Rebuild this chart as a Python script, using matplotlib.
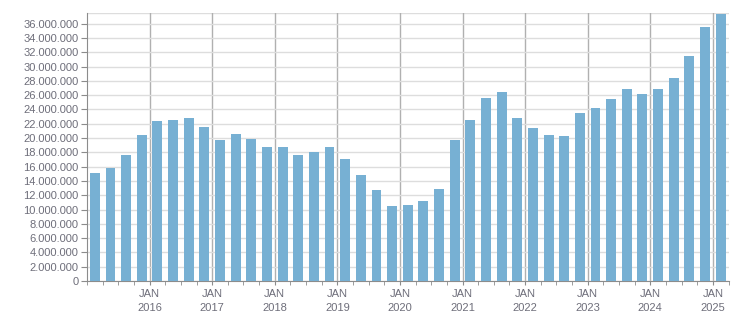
import matplotlib
matplotlib.use('Agg')
import matplotlib.pyplot as plt
from matplotlib.ticker import FuncFormatter, MultipleLocator

plt.rcParams['font.family'] = 'Liberation Sans'

# quarterly values, Q1 2015 .. Q1 2025
quarters = [f'{y}Q{q}' for y in range(2015, 2026) for q in range(1, 5)][:41]
values = [
    15.15, 15.85, 17.65, 20.47,
    22.43, 22.53, 22.85, 21.60,
    19.77, 20.60, 19.93, 18.79,
    18.79, 17.67, 18.05, 18.79,
    17.07, 14.87, 12.73, 10.49,
    10.63, 11.19, 12.87, 19.73,
    22.53, 25.60, 26.44, 22.81,
    21.41, 20.43, 20.29, 23.51,
    24.21, 25.47, 26.86, 26.16,
    26.86, 28.40, 31.48, 35.54,
    37.36,
]
values = [v * 1e6 for v in values]
years = list(range(2016, 2026))

bar_color = '#77B0D3'
text_color = '#6e6e7a'

fig = plt.figure(figsize=(7.51, 3.13), dpi=100)
ax = fig.add_axes([87 / 751, 1 - 281 / 313, (728.5 - 87) / 751, (281 - 13) / 313])

# x in months from Jan 2015, bar centred in its quarter
x = [3 * i + 1.5 for i in range(len(values))]
ax.bar(x, values, width=1.9, color=bar_color, zorder=3)

ax.set_xlim(0, 123)
ax.set_ylim(0, 37.5e6)

ax.yaxis.set_major_locator(MultipleLocator(2e6))
ax.yaxis.set_major_formatter(FuncFormatter(lambda v, p: f'{int(v):,}'.replace(',', '.')))

major = [12 * (y - 2015) for y in years]
ax.set_xticks(major)
ax.set_xticklabels([f'JAN\n{y}' for y in years])
ax.set_xticks([3 * i for i in range(42)], minor=True)

ax.grid(axis='y', color='#dddddd', linewidth=1, zorder=0)
for m in major:
    ax.axvline(m, color='#b0b0b0', linewidth=1, zorder=1)

for s in ['top', 'right']:
    ax.spines[s].set_visible(False)
ax.axhline(37.5e6, color='#dddddd', linewidth=1, zorder=0)
ax.spines['left'].set_color('#8c8c8c')
ax.spines['bottom'].set_color('#8c8c8c')

ax.tick_params(axis='y', length=4, color='#8c8c8c', labelsize=8, labelcolor=text_color, pad=2)
ax.tick_params(axis='x', which='both', length=3, color='#8c8c8c', labelsize=8,
               labelcolor=text_color, pad=3)
for lbl in ax.get_xticklabels():
    lbl.set_linespacing(1.5)

fig.savefig('out.png', dpi=100)
